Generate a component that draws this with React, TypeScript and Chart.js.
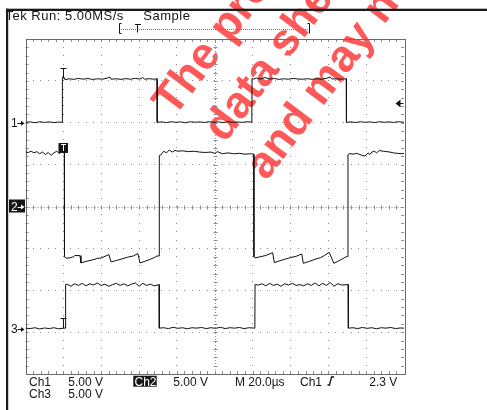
import React, { useEffect, useRef } from "react";
import { Chart, registerables } from "chart.js";

Chart.register(...registerables);

const W = 487;
const H = 410;

// ---- scope settings ----
const timeStart = 0; // µs
const timeEnd = 200; // µs (10 div)
const timePerDiv = 20; // µs/div
const divisionsX = 10;
const divisionsY = 8;
const minorPerDiv = 5;
const voltsPerDiv = [5, 5, 5]; // Ch1, Ch2, Ch3
const groundDiv = [2.0, 0, -2.925]; // ground reference positions (div)
const triggerLevel = 2.3; // V on Ch1
const triggerTime = 19.7; // µs
const channelNames = ["Ch1", "Ch2", "Ch3"];
const headerText = "Tek Run: 5.00MS/s";
const modeText = "Sample";
const watermarkLines = ["The product described", "data sheet is", "and may not be"];

// ---- traces: [time µs, volts] ----
const ch1Trace: [number, number][] = [
  [0, 0.05], [2.5, 0.1], [5, 0.0], [7.5, 0.12], [10, 0.04], [12.5, 0.1], [15, 0.02], [17.5, 0.08], [19.4, 0.05],
  [19.5, 5.3], [20, 5.6], [20.8, 5.15], [23, 5.25], [25.5, 5.18], [28, 5.3], [30.5, 5.2], [33, 5.28], [35.5, 5.17],
  [38, 5.25], [40.5, 5.2], [43, 5.32], [44.6, 5.45], [45.2, 5.2], [48, 5.25], [50.5, 5.18], [53, 5.27], [55.5, 5.2],
  [58, 5.3], [60.5, 5.22], [62, 5.4], [63, 5.2], [65.5, 5.26], [68, 5.2], [69.5, 5.25],
  [69.6, 0.05], [72, 0.1], [74.5, 0.02], [77, 0.12], [79.5, 0.05], [82, 0.1], [84.5, 0.0], [87, 0.12], [89.5, 0.06],
  [92, 0.1], [94.5, 0.03], [97, 0.12], [99.5, 0.05], [102, 0.1], [104.5, 0.02], [107, 0.12], [109.5, 0.05], [112, 0.1],
  [114.5, 0.04], [117, 0.12], [119.6, 0.06],
  [119.7, 5.3], [120.5, 5.2], [122, 5.35], [124, 5.2], [126.5, 5.4], [129, 5.22], [131.5, 5.28], [134, 5.18],
  [136.5, 5.25], [139, 5.2], [141.5, 5.3], [144, 5.22], [146.5, 5.2], [149, 5.26], [151.5, 5.18], [154, 5.25],
  [156.5, 5.2], [159, 5.3], [161, 5.45], [162, 5.22], [164.5, 5.25], [167, 5.2], [169.5, 5.25],
  [169.6, 0.05], [172, 0.1], [174.5, 0.03], [177, 0.12], [179.5, 0.05], [182, 0.1], [184.5, 0.02], [187, 0.12],
  [189.5, 0.05], [192, 0.1], [194.5, 0.03], [197, 0.12], [200, 0.06],
];

const ch2Trace: [number, number][] = [
  [0, 6.5], [1.5, 6.45], [3, 6.6], [4.5, 6.4], [6, 6.55], [7.5, 6.3], [9, 6.5], [10.5, 6.2], [12, 6.45], [13.5, 6.1],
  [15, 6.4], [16.5, 6.6], [18, 6.3], [19, 6.7], [20, 6.5], [20.5, 6.5],
  [20.6, -6.0], [21.4, -6.18], [24, -6.1], [25.5, -6.0], [26, -5.85], [28.8, -5.87], [29.3, -6.74], [32, -6.55],
  [35, -6.4], [38, -6.2], [40, -6.15], [42, -5.95], [44.1, -5.75], [45.2, -6.62], [48, -6.45], [51, -6.25],
  [54, -6.05], [57, -5.9], [59.4, -5.63], [60.5, -6.74], [63, -6.55], [66, -6.3], [68, -6.1], [69.5, -5.91], [70.6, -5.9],
  [70.7, 6.1], [71.5, 6.15], [73, 6.6], [74.5, 6.4], [76, 6.75], [77.5, 6.5], [79, 6.7], [80.5, 6.6], [83, 6.65],
  [86, 6.55], [89, 6.6], [92, 6.5], [95, 6.45], [98, 6.5], [100, 6.35], [101.5, 6.55], [104, 6.3], [107, 6.4],
  [110, 6.3], [113, 6.35], [116, 6.25], [119, 6.3], [120.6, 6.25],
  [120.7, -6.0], [121.3, -6.14], [124, -6.0], [127, -5.85], [130.6, -5.51], [131.5, -6.71], [134, -6.5], [137, -6.3],
  [140, -6.1], [143, -5.95], [146, -5.67], [146.8, -6.78], [150, -6.55], [153, -6.3], [156, -6.1], [158, -5.85],
  [160.5, -5.47], [162.9, -6.78], [165, -6.55], [167.5, -6.25], [169.5, -5.99], [170.3, -6.0],
  [170.4, 6.2], [171.4, 6.32], [173, 6.25], [175, 6.35], [176.7, 6.2], [178, 6.1], [179.4, 6.03], [181, 6.4],
  [182, 6.2], [183, 6.5], [184.5, 6.6], [185.5, 6.4], [187, 6.68], [189, 6.6], [191, 6.55], [192.6, 6.5],
  [194.5, 6.4], [196.5, 6.35], [198.5, 6.3], [200, 6.32],
];

const ch3Trace: [number, number][] = [
  [0, 0.1], [2.5, 0.05], [5, 0.15], [7.5, 0.0], [10, 0.12], [12.5, 0.05], [15, 0.15], [17.5, 0.02], [20, 0.1], [21.1, 0.1],
  [21.2, 5.3], [22, 5.35], [24, 5.1], [26, 5.4], [28, 5.2], [30, 5.45], [32, 5.15], [34, 5.4], [36, 5.25], [38, 5.5],
  [40, 5.2], [42, 5.35], [44, 5.1], [46, 5.3], [48, 5.45], [50, 5.2], [52, 5.4], [54, 5.15], [56, 5.35], [58, 5.5],
  [60, 5.1], [62, 5.45], [64, 5.2], [66, 5.35], [68, 5.15], [70.6, 5.3],
  [70.7, 0.1], [73, 0.15], [75.5, 0.05], [78, 0.2], [80.5, 0.08], [83, 0.15], [85.5, 0.02], [88, 0.15], [90.5, 0.1],
  [93, 0.18], [95.5, 0.05], [98, 0.15], [100.5, 0.08], [103, 0.2], [105.5, 0.05], [108, 0.15], [110.5, 0.1],
  [113, 0.18], [115.5, 0.05], [118, 0.15], [121.2, 0.1],
  [121.3, 5.3], [123, 5.25], [125, 5.4], [127, 5.15], [129, 5.45], [131, 5.2], [133, 5.35], [135, 5.1], [137, 5.4],
  [139, 5.25], [141, 5.45], [143, 5.2], [145, 5.3], [147, 5.15], [149, 5.4], [151, 5.2], [153, 5.5], [155, 5.15],
  [157, 5.45], [159, 5.2], [161, 5.55], [163, 5.1], [165, 5.4], [167, 5.25], [170.5, 5.3],
  [170.6, 0.1], [173, 0.15], [175.5, 0.05], [178, 0.18], [180.5, 0.08], [183, 0.15], [185.5, 0.03], [188, 0.15],
  [190.5, 0.1], [193, 0.18], [195.5, 0.05], [198, 0.12], [200, 0.1],
];

const traces = [ch1Trace, ch2Trace, ch3Trace];

const FONT = "'Liberation Sans', Arial, sans-serif";
const gridColor = "#8c8c8c";
const ink = "#151515";

function drawScope(chart: any, phase: string) {
  const ctx: CanvasRenderingContext2D = chart.ctx;
  const xs = chart.scales.x;
  const ys = chart.scales.y;
  const { left, right, top, bottom } = chart.chartArea;
  const yMin = -divisionsY / 2;

  if (phase === "bg") {
    ctx.save();
    ctx.fillStyle = "#ffffff";
    ctx.fillRect(0, 0, W, H);
    // watermark
    ctx.translate(174, 118);
    ctx.rotate((-53 * Math.PI) / 180);
    ctx.fillStyle = "rgb(255,88,88)";
    ctx.font = `bold 45px ${FONT}`;
    ctx.textBaseline = "alphabetic";
    const indents = [0, 10, 5];
    watermarkLines.forEach((s, i) => ctx.fillText(s, indents[i], i * 56));
    ctx.restore();
    return;
  }

  if (phase === "grid") {
    ctx.save();
    ctx.fillStyle = gridColor;
    const nMinorX = divisionsX * minorPerDiv;
    const nMinorY = divisionsY * minorPerDiv;
    const dot = (x: number, y: number) => ctx.fillRect(Math.round(x - 0.5), Math.round(y - 0.5), 1, 1);
    for (let i = 1; i < divisionsX; i++) {
      if (i === divisionsX / 2) continue;
      const px = xs.getPixelForValue(timeStart + i * timePerDiv);
      for (let j = 1; j < nMinorY; j++) dot(px, ys.getPixelForValue(yMin + j / minorPerDiv));
    }
    for (let i = 1; i < divisionsY; i++) {
      if (i === divisionsY / 2) continue;
      const py = ys.getPixelForValue(yMin + i);
      for (let j = 1; j < nMinorX; j++) dot(xs.getPixelForValue(timeStart + (j * timePerDiv) / minorPerDiv), py);
    }
    const cx = Math.round(xs.getPixelForValue(timeStart + (divisionsX / 2) * timePerDiv)) + 0.5;
    const cy = Math.round(ys.getPixelForValue(0)) + 0.5;
    ctx.strokeStyle = gridColor;
    ctx.lineWidth = 1;
    ctx.setLineDash([1, 2]);
    ctx.beginPath();
    ctx.moveTo(left, cy); ctx.lineTo(right, cy);
    ctx.moveTo(cx, top); ctx.lineTo(cx, bottom);
    ctx.stroke();
    ctx.setLineDash([]);
    ctx.beginPath();
    for (let j = 1; j < nMinorX; j++) {
      const px = Math.round(xs.getPixelForValue(timeStart + (j * timePerDiv) / minorPerDiv)) + 0.5;
      ctx.moveTo(px, cy - 2); ctx.lineTo(px, cy + 2);
      ctx.moveTo(px, top); ctx.lineTo(px, top + 3);
      ctx.moveTo(px, bottom); ctx.lineTo(px, bottom - 3);
    }
    for (let j = 1; j < nMinorY; j++) {
      const py = Math.round(ys.getPixelForValue(yMin + j / minorPerDiv)) + 0.5;
      ctx.moveTo(cx - 2, py); ctx.lineTo(cx + 2, py);
      ctx.moveTo(left, py); ctx.lineTo(left + 3, py);
      ctx.moveTo(right, py); ctx.lineTo(right - 3, py);
    }
    ctx.stroke();
    ctx.strokeStyle = "#6a6a6a";
    ctx.strokeRect(Math.round(left) + 0.5, Math.round(top) + 0.5, Math.round(right - left), Math.round(bottom - top));
    ctx.restore();
    return;
  }

  // ---- overlay ----
  ctx.save();
  ctx.fillStyle = ink;
  ctx.strokeStyle = ink;
  ctx.textBaseline = "alphabetic";

  ctx.font = `13px ${FONT}`;
  (ctx as any).letterSpacing = "0.5px";
  ctx.fillText(headerText, 5.5, 20);
  ctx.fillText(modeText, 143.3, 20);
  (ctx as any).letterSpacing = "0px";

  // record / trigger position bar
  ctx.lineWidth = 1;
  ctx.strokeStyle = "#777";
  ctx.setLineDash([1, 1]);
  ctx.beginPath();
  ctx.moveTo(121, 29.5); ctx.lineTo(308, 29.5);
  ctx.stroke();
  ctx.setLineDash([]);
  ctx.strokeStyle = ink;
  ctx.beginPath();
  ctx.moveTo(121.5, 23.5); ctx.lineTo(119.5, 23.5); ctx.lineTo(119.5, 33.5); ctx.lineTo(121.5, 33.5);
  ctx.moveTo(135, 24.5); ctx.lineTo(141, 24.5);
  ctx.moveTo(137.5, 24.5); ctx.lineTo(137.5, 32.5);
  ctx.moveTo(307.5, 23.5); ctx.lineTo(309.5, 23.5); ctx.lineTo(309.5, 33.5);
  ctx.stroke();

  const ground = (label: string, y: number, inverse: boolean) => {
    if (inverse) {
      ctx.fillStyle = ink;
      ctx.fillRect(9, y - 7, 16, 13);
      ctx.fillStyle = "#fff";
      ctx.strokeStyle = "#fff";
    } else {
      ctx.fillStyle = ink;
      ctx.strokeStyle = ink;
    }
    ctx.font = `12px ${FONT}`;
    ctx.fillText(label, 11, y + 4.3);
    ctx.lineWidth = 1;
    ctx.beginPath();
    ctx.moveTo(17.5, Math.round(y) + 0.5); ctx.lineTo(22, Math.round(y) + 0.5);
    ctx.stroke();
    ctx.beginPath();
    ctx.moveTo(21, y - 2); ctx.lineTo(24.5, y + 0.5); ctx.lineTo(21, y + 3);
    ctx.closePath();
    ctx.fill();
  };
  ground("1", ys.getPixelForValue(groundDiv[0]), false);
  ground("2", ys.getPixelForValue(groundDiv[1]), true);
  ground("3", ys.getPixelForValue(groundDiv[2]), false);
  ctx.fillStyle = ink;
  ctx.strokeStyle = ink;

  const ty = ys.getPixelForValue(groundDiv[0] + triggerLevel / voltsPerDiv[0]);
  ctx.beginPath();
  ctx.moveTo(395.5, ty); ctx.lineTo(400.5, ty - 4); ctx.lineTo(400.5, ty + 4);
  ctx.closePath();
  ctx.fill();
  ctx.beginPath();
  ctx.moveTo(400, Math.round(ty) + 0.5); ctx.lineTo(403.5, Math.round(ty) + 0.5);
  ctx.stroke();

  const tx = Math.round(xs.getPixelForValue(triggerTime)) + 0.5;
  const tMark = (yTop: number) => {
    ctx.beginPath();
    ctx.moveTo(tx - 3, yTop); ctx.lineTo(tx + 3, yTop);
    ctx.moveTo(tx, yTop); ctx.lineTo(tx, yTop + 10);
    ctx.stroke();
  };
  tMark(Math.round(ys.getPixelForValue(groundDiv[0] + 5.2 / voltsPerDiv[0])) - 10.5);
  tMark(Math.round(ys.getPixelForValue(groundDiv[2])) - 10.5);
  const c2 = ys.getPixelForValue(groundDiv[1] + 6.45 / voltsPerDiv[1]);
  ctx.fillRect(tx - 5, c2 - 9.5, 9.5, 10);
  ctx.strokeStyle = "#fff";
  ctx.beginPath();
  ctx.moveTo(tx - 2.5, Math.round(c2) - 7.5); ctx.lineTo(tx + 2.5, Math.round(c2) - 7.5);
  ctx.moveTo(tx, Math.round(c2) - 7.5); ctx.lineTo(tx, Math.round(c2) - 1);
  ctx.stroke();
  ctx.strokeStyle = ink;

  ctx.font = `12px ${FONT}`;
  const r1 = 385.5;
  const r2 = 398;
  const vdiv = (k: number) => `${voltsPerDiv[k].toFixed(2)} V`;
  ctx.fillText(channelNames[0], 29, r1);
  ctx.fillText(vdiv(0), 68.3, r1);
  ctx.fillRect(133.3, 375.7, 23.4, 11);
  ctx.fillStyle = "#fff";
  ctx.fillText(channelNames[1], 134.5, r1);
  ctx.fillStyle = ink;
  ctx.fillText(vdiv(1), 173.3, r1);
  ctx.fillText(`M ${timePerDiv.toFixed(1)}\u00b5s`, 235, r1);
  ctx.fillText(channelNames[0], 300, r1);
  ctx.lineWidth = 1.3;
  ctx.beginPath();
  ctx.moveTo(327.5, r1 - 0.5); ctx.lineTo(329.5, r1 - 0.5); ctx.lineTo(331.5, r1 - 8.5); ctx.lineTo(334, r1 - 8.5);
  ctx.stroke();
  ctx.fillText(`${triggerLevel.toFixed(1)} V`, 369.3, r1);
  ctx.fillText(channelNames[2], 29, r2);
  ctx.fillText(vdiv(2), 68.3, r2);

  ctx.fillStyle = "#1a1a1a";
  ctx.fillRect(6, 8.7, W - 6, 2.3);
  ctx.fillRect(6, 8.7, 2.2, H);
  ctx.restore();
}

const scopePlugin = {
  id: "scopeScreen",
  beforeDraw(chart: any) { drawScope(chart, "bg"); },
  beforeDatasetsDraw(chart: any) { drawScope(chart, "grid"); },
  afterDraw(chart: any) { drawScope(chart, "fg"); },
};

export default function App() {
  const canvasRef = useRef<HTMLCanvasElement | null>(null);
  useEffect(() => {
    const canvas = canvasRef.current;
    if (!canvas) return;
    const chart = new Chart(canvas, {
      type: "line",
      data: {
        datasets: traces.map((tr, k) => ({
          label: channelNames[k],
          data: tr.map(([t, v]) => ({ x: t, y: groundDiv[k] + v / voltsPerDiv[k] })),
          borderColor: "#111",
          borderWidth: 1,
          pointRadius: 0,
          tension: 0,
          fill: false,
        })),
      },
      options: {
        responsive: false,
        animation: false,
        devicePixelRatio: 1,
        events: [],
        layout: { padding: { left: 25.5, top: 39, right: 83, bottom: 36 } },
        plugins: { legend: { display: false }, tooltip: { enabled: false } },
        scales: {
          x: { type: "linear", min: timeStart, max: timeEnd, display: false },
          y: { type: "linear", min: -divisionsY / 2, max: divisionsY / 2, display: false },
        },
      },
      plugins: [scopePlugin],
    } as any);
    return () => chart.destroy();
  }, []);
  return (
    <div style={{ position: "absolute", left: 0, top: 0, width: W, height: H, background: "#fff" }}>
      <canvas ref={canvasRef} width={W} height={H} style={{ display: "block", width: W, height: H }} />
    </div>
  );
}
